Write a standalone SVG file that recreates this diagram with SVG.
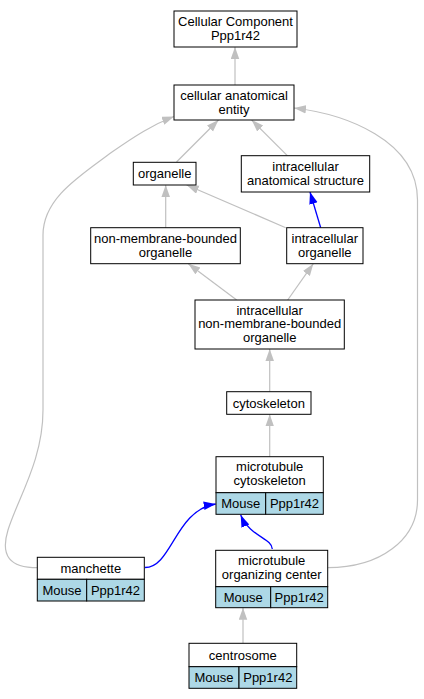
<svg xmlns="http://www.w3.org/2000/svg" width="424" height="699" viewBox="0 0 424 699">
<style>
text{font-family:"Liberation Sans",Arial,sans-serif;font-size:13px;text-anchor:middle;fill:#000}
.box{fill:#fff;stroke:#000;stroke-width:1}
.cell{fill:#add8e6;stroke:#000;stroke-width:1}
.g{fill:none;stroke:#c0c0c0;stroke-width:1.2}
.b{fill:none;stroke:#0000ff;stroke-width:1.3}
</style>
<defs>
<marker id="ag" markerUnits="userSpaceOnUse" markerWidth="13" markerHeight="10" refX="12" refY="4.25" orient="auto"><path d="M0,0 L12,4.25 L0,8.5 z" fill="#c0c0c0"/></marker>
<marker id="ab" markerUnits="userSpaceOnUse" markerWidth="13" markerHeight="10" refX="12" refY="4.25" orient="auto"><path d="M0,0 L12,4.25 L0,8.5 z" fill="#0000ff"/></marker>
</defs>
<rect width="424" height="699" fill="#fff"/>
<g id="connectors">
<path class="g" d="M235,85 L235,47" marker-end="url(#ag)"/>
<path class="g" d="M176.5,162 L218.5,120" marker-end="url(#ag)"/>
<path class="g" d="M287.3,155.7 L251.7,120" marker-end="url(#ag)"/>
<path class="g" d="M165.7,228 L165.7,185" marker-end="url(#ag)"/>
<path class="g" d="M285.7,227.7 L186.7,185" marker-end="url(#ag)"/>
<path class="b" d="M320.7,227.7 L310,192" marker-end="url(#ab)"/>
<path class="g" d="M236.7,300 L188.3,263.7" marker-end="url(#ag)"/>
<path class="g" d="M287.7,300 L313.3,263.7" marker-end="url(#ag)"/>
<path class="g" d="M269.7,391.7 L269.7,349" marker-end="url(#ag)"/>
<path class="g" d="M269.7,456.7 L269.7,414.3" marker-end="url(#ag)"/>
<path class="b" d="M145,567.5 C172,567.5 175,510 215.7,504" marker-end="url(#ab)"/>
<path class="b" d="M272.3,549 C272,538 250,537 240.7,515" marker-end="url(#ab)"/>
<path class="g" d="M37.3,567.7 C10,567.7 0,556 8,530 C18,498 43,460 43,410 L43,235 C43,198 80,176 112,152 C135,136 152,125 174,116.5" marker-end="url(#ag)"/>
<path class="g" d="M327.7,567.7 C380,567.7 417.5,540 417.5,500 L417.5,200 C417.5,140 345,114 294,108" marker-end="url(#ag)"/>
<path class="g" d="M243,643.3 L243,607.7" marker-end="url(#ag)"/>
</g>
<g id="n_cc">
<rect class="box" x="174" y="11" width="123" height="36"/>
<text x="235.5" y="25.5">Cellular Component</text>
<text x="235.5" y="40">Ppp1r42</text>
</g>
<g id="n_cae">
<rect class="box" x="174" y="85" width="120" height="35"/>
<text x="234" y="99.5">cellular anatomical</text>
<text x="234" y="113.5">entity</text>
</g>
<g id="n_organelle">
<rect class="box" x="133.3" y="162.3" width="62.7" height="22.7"/>
<text x="164.7" y="178">organelle</text>
</g>
<g id="n_ias">
<rect class="box" x="241.3" y="155.7" width="128.4" height="36.3"/>
<text x="305.5" y="170.7">intracellular</text>
<text x="305.5" y="184.7">anatomical structure</text>
</g>
<g id="n_nmbo">
<rect class="box" x="90.7" y="227.7" width="149.6" height="36"/>
<text x="165.5" y="242.5">non-membrane-bounded</text>
<text x="165.5" y="256.5">organelle</text>
</g>
<g id="n_io">
<rect class="box" x="286.7" y="227.7" width="76.3" height="36"/>
<text x="324.8" y="242.5">intracellular</text>
<text x="324.8" y="256.5">organelle</text>
</g>
<g id="n_inmbo">
<rect class="box" x="195" y="300" width="149.3" height="49"/>
<text x="269.7" y="314.5">intracellular</text>
<text x="269.7" y="328">non-membrane-bounded</text>
<text x="269.7" y="341.5">organelle</text>
</g>
<g id="n_cyto">
<rect class="box" x="226.7" y="391.7" width="84.3" height="22.6"/>
<text x="268.8" y="407.5">cytoskeleton</text>
</g>
<g id="n_mtc">
<rect class="box" x="216" y="456.7" width="107.3" height="36"/>
<text x="269.7" y="471">microtubule</text>
<text x="269.7" y="485">cytoskeleton</text>
<rect class="cell" x="216" y="492.7" width="49.7" height="21.6"/>
<rect class="cell" x="265.7" y="492.7" width="57.6" height="21.6"/>
<text x="240.8" y="508">Mouse</text>
<text x="294.5" y="508">Ppp1r42</text>
</g>
<g id="n_manchette">
<rect class="box" x="37.3" y="557.3" width="107" height="22"/>
<text x="90.8" y="572.8">manchette</text>
<rect class="cell" x="37.3" y="579.3" width="49.4" height="21.7"/>
<rect class="cell" x="86.7" y="579.3" width="57.6" height="21.7"/>
<text x="62" y="594.8">Mouse</text>
<text x="115.5" y="594.8">Ppp1r42</text>
</g>
<g id="n_mtoc">
<rect class="box" x="215.7" y="550.3" width="112" height="36.4"/>
<text x="271.7" y="565">microtubule</text>
<text x="271.7" y="579">organizing center</text>
<rect class="cell" x="215.7" y="586.7" width="55" height="21"/>
<rect class="cell" x="270.7" y="586.7" width="57" height="21"/>
<text x="243.2" y="601.8">Mouse</text>
<text x="299.2" y="601.8">Ppp1r42</text>
</g>
<g id="n_centrosome">
<rect class="box" x="189" y="643.3" width="107.7" height="23.4"/>
<text x="242.8" y="659.5">centrosome</text>
<rect class="cell" x="189" y="666.7" width="50" height="21.6"/>
<rect class="cell" x="239" y="666.7" width="57.7" height="21.6"/>
<text x="214" y="682">Mouse</text>
<text x="267.8" y="682">Ppp1r42</text>
</g>
</svg>
